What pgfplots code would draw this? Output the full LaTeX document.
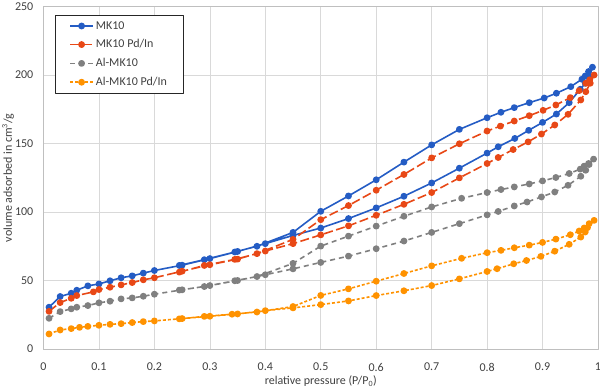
\documentclass[border=0pt]{standalone}
\usepackage{fontspec}
\setmainfont{Carlito}
\usepackage{pgfplots}
\pgfplotsset{compat=1.18}
\definecolor{cblue}{RGB}{36,92,196}
\definecolor{cred}{RGB}{232,72,22}
\definecolor{cgray}{RGB}{128,128,128}
\definecolor{corange}{RGB}{255,146,0}
\definecolor{ctext}{RGB}{64,64,64}
\begin{document}
\begin{tikzpicture}
\useasboundingbox (-43.5pt,-40pt) rectangle (556.5pt,349pt);
\begin{axis}[
  width=554.5pt, height=342.5pt, scale only axis,
  xmin=0, xmax=1, ymin=0, ymax=250,
  xtick={0,0.1,0.2,0.3,0.4,0.5,0.6,0.7,0.8,0.9,1},
  xticklabels={0,0.1,0.2,0.3,0.4,0.5,0.6,0.7,0.8,0.9,1},
  ytick={0,50,100,150,200,250},
  grid=major,
  major grid style={draw=black!15, line width=0.7pt},
  axis line style={draw=black!25, line width=0.7pt},
  tick style={draw=none},
  font=\fontsize{12}{14}\selectfont,
  ticklabel style={font=\fontsize{12}{14}\selectfont, text=ctext},
  xticklabel style={anchor=center, yshift=-18pt},
  yticklabel style={anchor=east, inner sep=0pt, xshift=-10pt},
  /pgf/number format/assume math mode=true,
  xlabel={relative pressure (P/P\textsubscript{0})},
  ylabel={volume adsorbed in cm\textsuperscript{3}/g},
  xlabel style={at={(axis description cs:0.5,0)}, anchor=center, yshift=-32pt, text=ctext},
  ylabel style={at={(axis description cs:-0.064,0.5)}, anchor=center, text=ctext},
  legend style={at={(axis description cs:0.0207,0.975)}, anchor=north west,
    draw=black!85, line width=0.6pt, font=\fontsize{12}{14}\selectfont,
    row sep=5pt, inner xsep=14pt, inner ysep=4pt, text=ctext, cells={anchor=west}},
  legend image code/.code={\draw[mark repeat=2,mark phase=2,#1] plot coordinates {(0pt,0pt) (11.5pt,0pt) (23pt,0pt)};},
  line join=round,
]
\addplot[color=cblue, line width=1.6pt, mark=*, mark size=2.6pt, mark options={solid}] coordinates {
(0.01,30.5)(0.03,38.3)(0.05,40.7)(0.06,42.9)(0.08,46.1)(0.10,47.5)(0.12,49.8)(0.14,52.0)(0.16,53.4)(0.18,55.4)(0.20,57.3)(0.25,61.2)(0.30,66.0)(0.35,71.2)(0.40,76.9)(0.45,82.9)(0.50,88.3)(0.55,95.2)(0.60,103.0)(0.65,111.5)(0.70,121.2)(0.75,132.0)(0.80,143.0)(0.82,147.6)(0.85,153.7)(0.875,159.6)(0.90,165.4)(0.925,171.5)(0.948,179.8)(0.968,189.6)(0.977,194.0)(0.984,198.8)(0.99,205.7)
(0.983,202.5)(0.977,199.3)(0.971,196.9)(0.951,191.5)(0.925,186.7)(0.903,183.2)(0.876,179.8)(0.849,176.2)(0.825,172.8)(0.80,168.8)(0.75,160.3)(0.70,149.0)(0.65,136.4)(0.60,123.5)(0.55,111.7)(0.50,100.5)(0.45,85.1)(0.385,75.0)(0.345,70.8)(0.29,65.2)(0.245,61.0)
};
\addlegendentry{MK10}
\addplot[color=cred, line width=1.6pt, dash pattern=on 9pt off 3.5pt, mark=*, mark size=2.6pt, mark options={solid}] coordinates {
(0.01,27.5)(0.03,33.9)(0.05,37.0)(0.06,39.0)(0.09,41.7)(0.10,43.4)(0.12,45.1)(0.14,46.8)(0.16,48.5)(0.18,50.5)(0.20,52.0)(0.25,56.8)(0.30,61.5)(0.35,65.6)(0.40,71.5)(0.45,76.9)(0.50,83.3)(0.55,89.9)(0.60,97.6)(0.65,105.6)(0.70,114.2)(0.75,124.9)(0.80,135.4)(0.82,139.8)(0.847,145.6)(0.874,151.2)(0.898,156.9)(0.922,163.5)(0.946,171.3)(0.969,181.8)(0.978,187.8)(0.986,194.0)(0.993,200.0)
(0.985,196.5)(0.978,194.0)(0.966,188.6)(0.95,183.5)(0.924,178.1)(0.901,174.2)(0.876,170.3)(0.849,166.4)(0.824,162.7)(0.80,159.1)(0.75,149.8)(0.70,139.5)(0.65,127.4)(0.60,115.9)(0.55,104.7)(0.50,94.4)(0.45,80.0)(0.385,69.6)(0.345,65.4)(0.29,61.0)(0.245,56.1)
};
\addlegendentry{MK10 Pd/In}
\addplot[color=cgray, line width=1.6pt, dash pattern=on 5pt off 4pt, mark=*, mark size=2.6pt, mark options={solid}] coordinates {
(0.01,22.4)(0.03,27.3)(0.05,29.3)(0.06,30.5)(0.08,31.7)(0.10,33.7)(0.12,34.9)(0.14,36.6)(0.16,37.3)(0.18,38.5)(0.20,40.0)(0.25,43.2)(0.30,46.3)(0.35,50.0)(0.40,54.2)(0.45,58.5)(0.50,63.2)(0.55,67.8)(0.60,73.2)(0.65,78.8)(0.70,85.1)(0.75,91.5)(0.80,97.9)(0.82,100.4)(0.849,104.4)(0.872,107.3)(0.898,111.0)(0.922,114.6)(0.946,119.5)(0.969,126.1)(0.978,130.5)(0.984,134.7)(0.992,138.6)
(0.983,135.4)(0.975,133.5)(0.968,131.3)(0.948,128.1)(0.924,125.2)(0.90,122.7)(0.876,120.5)(0.849,118.3)(0.825,116.4)(0.80,114.2)(0.754,110.0)(0.70,103.7)(0.65,96.9)(0.60,89.7)(0.55,82.4)(0.50,75.1)(0.45,62.5)(0.385,52.9)(0.345,49.8)(0.29,45.6)(0.245,43.0)
};
\addlegendentry{Al-MK10}
\addplot[color=corange, line width=1.6pt, dash pattern=on 3pt off 2pt, mark=*, mark size=2.6pt, mark options={solid}] coordinates {
(0.01,11.0)(0.03,13.9)(0.05,14.9)(0.065,15.8)(0.08,16.5)(0.10,17.3)(0.12,18.0)(0.14,18.5)(0.16,19.3)(0.18,20.0)(0.20,20.5)(0.25,22.2)(0.30,23.9)(0.35,25.6)(0.40,28.0)(0.45,30.0)(0.50,32.4)(0.55,35.1)(0.60,39.0)(0.65,42.5)(0.70,46.3)(0.75,51.2)(0.80,56.6)(0.818,58.6)(0.848,62.2)(0.871,64.6)(0.897,67.6)(0.922,71.4)(0.948,76.4)(0.969,81.7)(0.977,85.4)(0.981,88.6)(0.993,93.9)
(0.984,91.5)(0.975,88.3)(0.966,86.1)(0.95,83.4)(0.924,80.2)(0.90,77.8)(0.876,75.8)(0.849,73.9)(0.825,72.0)(0.80,70.3)(0.754,66.2)(0.70,60.7)(0.65,55.1)(0.60,49.5)(0.55,43.9)(0.50,39.1)(0.45,31.0)(0.385,27.0)(0.34,25.4)(0.29,23.8)(0.245,22.0)
};
\addlegendentry{Al-MK10 Pd/In}
\end{axis}
\end{tikzpicture}
\end{document}
